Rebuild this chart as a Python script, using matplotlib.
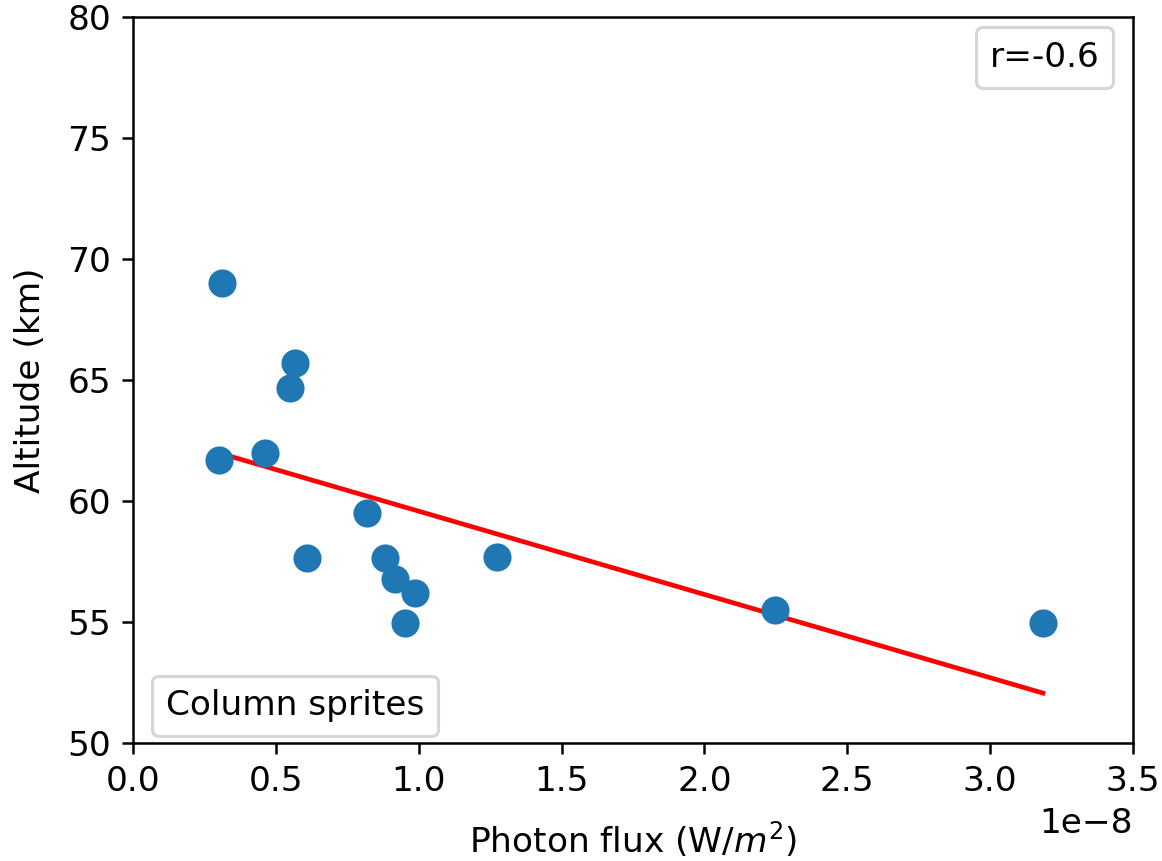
import numpy as np
import matplotlib
matplotlib.use("Agg")
import matplotlib.pyplot as plt

# photon flux (W/m^2) and altitude (km) of column sprites
flux = np.array([0.311, 0.301, 0.462, 0.550, 0.567, 0.609, 0.819, 0.882,
                 0.917, 0.987, 0.952, 1.274, 2.247, 3.185]) * 1e-8
altitude = np.array([69.0, 61.7, 61.98, 64.67, 65.7, 57.64, 59.5, 57.64,
                     56.8, 56.2, 54.96, 57.69, 55.5, 54.96])
r_label = "r=-0.6"
group_label = "Column sprites"

plt.rcParams["font.size"] = 11

dpi = 225
fig = plt.figure(figsize=(1162 / dpi, 861 / dpi), dpi=dpi)
ax = fig.add_axes([0.1145, 0.137, 0.975 - 0.1145, 0.980 - 0.137])

# linear fit across the data range
slope, intercept = np.polyfit(flux, altitude, 1)
xfit = np.array([flux.min(), flux.max()])
ax.plot(xfit, slope * xfit + intercept, color="red", zorder=1)

ax.scatter(flux, altitude, s=64, color="tab:blue", zorder=2)

ax.set_xlim(0, 3.5e-8)
ax.set_ylim(50, 80)
ax.set_xlabel("Photon flux (W/$m^2$)", labelpad=7)
ax.set_ylabel("Altitude (km)", labelpad=6.5)

h1, = ax.plot([], [], " ", label=r_label)
leg1 = ax.legend(handles=[h1], loc="upper right", bbox_to_anchor=(0.98, 0.986),
                 borderaxespad=0, handlelength=0, handletextpad=0)
ax.add_artist(leg1)
h2, = ax.plot([], [], " ", label=group_label)
ax.legend(handles=[h2], loc="lower left", bbox_to_anchor=(0.019, 0.0096),
          borderaxespad=0, handlelength=0, handletextpad=0)

fig.savefig("out.png", dpi=dpi)
